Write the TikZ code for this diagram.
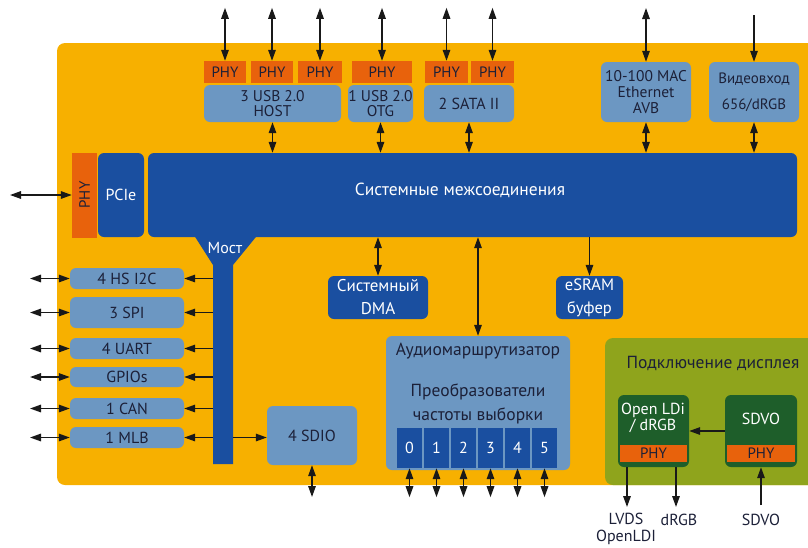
\documentclass[tikz,border=0pt]{standalone}
\usepackage{fontspec}
\setmainfont{PT Sans}
\usetikzlibrary{arrows.meta}
\definecolor{socorange}{RGB}{247,176,0}
\definecolor{phyred}{RGB}{232,98,12}
\definecolor{lightblue}{RGB}{108,151,194}
\definecolor{darkblue}{RGB}{26,79,160}
\definecolor{dispgreen}{RGB}{143,164,28}
\definecolor{darkgreen}{RGB}{30,94,42}
\definecolor{inktext}{RGB}{28,32,56}
\tikzset{
  lbox/.style={fill=lightblue,rounded corners=6pt,align=center},
  dbox/.style={fill=darkblue,rounded corners=6pt,text=white,align=center},
  gbox/.style={fill=darkgreen,rounded corners=6pt},
  phy/.style={fill=phyred,font=\fontsize{15}{15}\selectfont},
  sz/.style 2 args={minimum width=#1,minimum height=#2},
  big/.style={font=\fontsize{17.5}{18}\selectfont},
  link/.style={line width=1.5pt,black!90,->},
  duplex/.style={line width=1.5pt,black!90,<->}
}

\begin{document}
\begin{tikzpicture}[x=1pt,y=-1pt,
  every node/.style={inner sep=0pt,text=inktext,font=\fontsize{16}{16}\selectfont},
  >={Triangle[length=11pt,width=7.5pt]}]
\useasboundingbox (0,0) rectangle (808,547);

% backgrounds
\fill[socorange,rounded corners=8pt] (57,43) rectangle (820,485);
\node[fill=dispgreen,rounded corners=8pt,sz={215}{147}] (disp) at (712.5,411.5) {};
\node[big] (disptitle) at (713,363) {Подключение дисплея};

% top interfaces
\node[phy,sz={42}{22}] (phyA) at (225,72) {PHY};
\node[phy,sz={42}{22}] (phyB) at (272,72) {PHY};
\node[phy,sz={44}{22}] (phyC) at (320,72) {PHY};
\node[phy,sz={60}{22}] (phyD) at (382,72) {PHY};
\node[phy,sz={43}{22}] (phyE) at (446.5,72) {PHY};
\node[phy,sz={43}{22}] (phyF) at (492.5,72) {PHY};
\node[lbox,sz={137}{37},font=\fontsize{15.5}{15}\selectfont] (usbhost) at (272.5,103.5) {3 USB 2.0\\HOST};
\node[lbox,sz={65}{37},font=\fontsize{15.5}{15}\selectfont] (usbotg) at (380.5,103.5) {1 USB 2.0\\OTG};
\node[lbox,sz={90}{37}] (sata) at (469,103.5) {2 SATA II};
\node[lbox,sz={90}{60},font=\fontsize{15.5}{16}\selectfont] (eth) at (646,92) {10-100 MAC\\Ethernet\\AVB};
\node[lbox,sz={90}{60},font=\fontsize{15}{15}\selectfont] (video) at (754,92) {Видеовход\\[11pt]656/dRGB};

% system bus and bridge
\node[dbox,sz={649}{84}] (sysbus) at (472.5,195) {};
\node[big,text=white] (busname) at (460,190) {Системные межсоединения};
\fill[darkblue] (192,232) -- (260,232) -- (233,265) -- (233,464) -- (213,464) -- (213,265) -- cycle;
\node[sz={20}{199}] (bridge) at (223,364.5) {};
\node[text=white] (bridgename) at (225,248) {Мост};
\node[dbox,sz={46}{84}] (pcie) at (121,195) {PCIe};
\node[phy,sz={85}{25},rotate=90] (phyL) at (84.5,195) {PHY};

% peripherals on the bridge
\node[lbox,sz={114}{21}] (i2c) at (127,278.5) {4 HS I2C};
\node[lbox,sz={114}{31}] (spi) at (127,312.5) {3 SPI};
\node[lbox,sz={114}{21}] (uart) at (127,348.5) {4 UART};
\node[lbox,sz={114}{20}] (gpio) at (127,377) {GPIOs};
\node[lbox,sz={114}{21}] (can) at (127,408.5) {1 CAN};
\node[lbox,sz={114}{21}] (mlb) at (127,437.5) {1 MLB};
\node[lbox,sz={90}{59}] (sdio) at (312,435.5) {4 SDIO};

% memory, dma, audio
\node[dbox,sz={100}{43},font=\fontsize{17}{17}\selectfont] (dma) at (378,297.5) {Системный\\[6pt]DMA};
\node[dbox,sz={67}{43},font=\fontsize{16.5}{17}\selectfont] (esram) at (589.5,297.5) {eSRAM\\[6pt]буфер};
\node[lbox,sz={184}{134}] (audio) at (478,403) {};
\node[big] (audioname) at (478,351) {Аудиомаршрутизатор};
\node[align=center,font=\fontsize{17.5}{24}\selectfont] (srcname) at (478,404) {Преобразователи\\частоты выборки};
\foreach \n in {0,...,5}{
  \node[fill=darkblue,text=white,sz={25}{40}] (ch\n) at ({409.5+27*\n},448) {\n};
  \path (ch\n.south) ++(0,29) coordinate (ch\n-out);
  \draw[duplex] (ch\n.south) -- (ch\n-out);
}

% display
\node[gbox,sz={71}{72}] (ldi) at (653.5,431) {};
\node[phy,sz={67}{17}] (ldiphy) at (653.5,453.5) {PHY};
\node[text=white,align=center,font=\fontsize{16}{16}\selectfont] (ldiname) at (653,418) {Open LDi\\/ dRGB};
\node[gbox,sz={72}{72}] (sdvo) at (761,431) {};
\node[phy,sz={68}{17}] (sdvophy) at (761,453.5) {PHY};
\node[text=white] (sdvoname) at (761,419) {SDVO};
\coordinate (lvdsout) at (627,507);
\coordinate (rgbout) at (676,507);
\coordinate (sdvoin) at (761,505);
\node[align=center,font=\fontsize{16}{17}\selectfont] (lvdslabel) at (626,528.5) {LVDS\\OpenLDI};
\node (rgblabel) at (679,520) {dRGB};
\node (sdvolabel) at (761,520) {SDVO};

% connectors
\foreach \p in {phyA,phyB,phyC,phyD,phyE,phyF}{
  \path (\p.north) ++(0,-53) coordinate (\p-top);
  \draw[duplex] (\p-top) -- (\p.north);
}
\coordinate (ethtop) at (646,8);
\coordinate (videotop) at (754,15);
\draw[duplex] (ethtop) -- (eth.north);
\draw[link] (videotop) -- (video.north);
\foreach \b in {usbhost,usbotg,sata,eth,video}
  \draw[duplex] (\b.south) -- (\b.south |- sysbus.north);
\coordinate (pcieout) at (10,195);
\draw[duplex] (pcieout) -- (phyL.north);
\coordinate (leftrail) at (30,0);
\foreach \b in {i2c,spi,uart,gpio,can,mlb}{
  \draw[duplex] (leftrail |- \b.west) -- (\b.west);
  \draw[link] (bridge.west |- \b.east) -- (\b.east);
}
\draw[link] (bridge.east |- mlb.east) -- (sdio.west |- mlb.east);
\coordinate (sdioout) at (312,497);
\draw[duplex] (sdio.south) -- (sdioout);
\draw[duplex] (sysbus.south -| dma.north) -- (dma.north);
\draw[link] (sysbus.south -| esram.north) -- (esram.north);
\draw[duplex] (sysbus.south -| audio.north) -- (audio.north);
\draw[link] (sdvo.west) -- (ldi.east);
\draw[link] (ldi.south -| lvdsout) -- (lvdsout);
\draw[link] (ldi.south -| rgbout) -- (rgbout);
\draw[link] (sdvoin) -- (sdvo.south);
\end{tikzpicture}
\end{document}
